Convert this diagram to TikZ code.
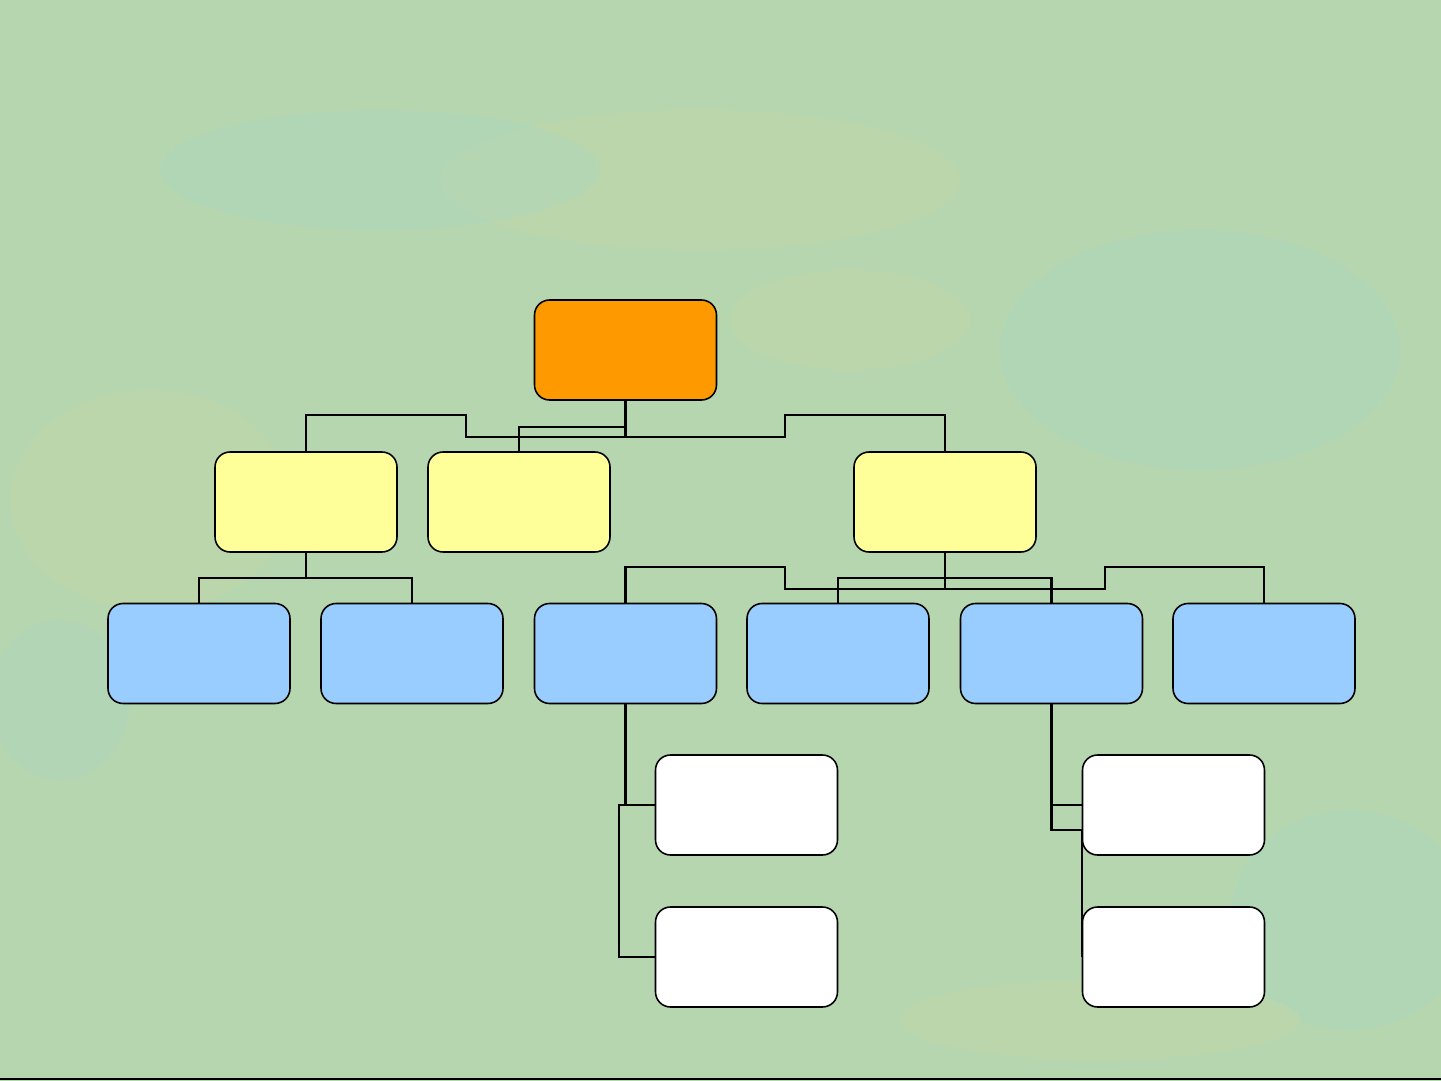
\documentclass[tikz,border=0pt]{standalone}
\usepackage{tikz}
\usepackage{xcolor}
\usetikzlibrary{calc}
\definecolor{bggreen}{RGB}{182,214,176}
\definecolor{bgyellow}{RGB}{205,214,160}
\definecolor{bgteal}{RGB}{168,214,196}
\definecolor{boxorange}{RGB}{255,153,0}
\definecolor{boxyellow}{RGB}{255,255,153}
\definecolor{boxblue}{RGB}{153,204,255}
\tikzset{>=latex}

\begin{document}
\begin{tikzpicture}[x=0.02cm,y=-0.02cm,
		box/.style={draw,line width=0.9pt,rounded corners=0.3cm,minimum width=3.64cm,minimum height=2cm,inner sep=0pt},
		link/.style={line width=1.4pt}]
		% background
		\useasboundingbox (0,0) rectangle (1441,1081);
		\fill[bggreen] (0,0) rectangle (1441,1081);
		\fill[bgyellow,opacity=.3] (700,180) ellipse (260 and 70);
		\fill[bgyellow,opacity=.25] (150,500) ellipse (140 and 110);
		\fill[bgteal,opacity=.3] (380,170) ellipse (220 and 60);
		\fill[bgteal,opacity=.3] (1200,350) ellipse (200 and 120);
		\fill[bgyellow,opacity=.25] (850,320) ellipse (120 and 50);
		\fill[bgteal,opacity=.3] (1350,920) ellipse (120 and 110);
		\fill[bgyellow,opacity=.25] (1100,1020) ellipse (200 and 40);
		\fill[bgteal,opacity=.25] (60,700) ellipse (70 and 80);
		\draw[line width=1.4pt] (0,1079) -- (1441,1079);
		% boxes
		\node[box,fill=boxorange] (root) at (625.5,350) {};
		\node[box,fill=boxyellow] (ya) at (306,502) {};
		\node[box,fill=boxyellow] (yb) at (519,502) {};
		\node[box,fill=boxyellow] (yc) at (945,502) {};
		\node[box,fill=boxblue] (ba) at (199,653.5) {};
		\node[box,fill=boxblue] (bb) at (412,653.5) {};
		\node[box,fill=boxblue] (bc) at (625.5,653.5) {};
		\node[box,fill=boxblue] (bd) at (838,653.5) {};
		\node[box,fill=boxblue] (be) at (1051.5,653.5) {};
		\node[box,fill=boxblue] (bf) at (1264,653.5) {};
		\node[box,fill=white] (wa) at (746.5,805) {};
		\node[box,fill=white] (wb) at (746.5,957) {};
		\node[box,fill=white] (wc) at (1173.5,805) {};
		\node[box,fill=white] (wd) at (1173.5,957) {};
		% first level
		\draw[link] (root.south) -- (625.5,437);
		\draw[link] (ya.north) |- (466,415) |- (785,437) |- (945,415) -- (yc.north);
		\draw[link] (yb.north) |- (625.5,427);
		% second level
		\draw[link] (ya.south) -- (306,578);
		\draw[link] (ba.north) |- (412,578) -- (bb.north);
		\draw[link] (yc.south) -- (945,589);
		\draw[link] (bc.north) |- (785,567) |- (1105,589) |- (1264,567) -- (bf.north);
		\draw[link] (bd.north) |- (1051.5,578) -- (be.north);
		% third level
		\draw[link] (bc.south) -- (625.5,805);
		\draw[link] (wa.west) -| (619,957) -- (wb.west);
		\draw[link] (be.south) |- (wc.west);
		\draw[link] (be.south) -- (1051.5,830) -| (wd.west);
	\end{tikzpicture}
\end{document}
